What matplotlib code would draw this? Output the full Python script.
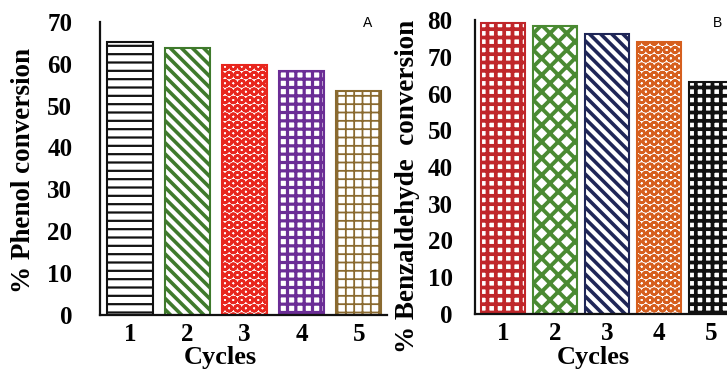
import matplotlib
matplotlib.use('Agg')
import matplotlib.pyplot as plt

plt.rcParams['font.family'] = ['Liberation Serif', 'DejaVu Serif']

cycles = [1, 2, 3, 4, 5]
cycle_labels = ['1', '2', '3', '4', '5']

phenol = [65.3, 63.7, 59.8, 58.2, 53.6]
phenol_colors = ['#111111', '#3f7a2c', '#e8261e', '#6b2d96', '#8a6a30']
phenol_hatches = ['--', '\\\\\\', 'OO', '++', '++']
phenol_hatch_lw = [1.6, 2.6, 1.9, 2.3, 1.3]

benz = [79.2, 78.5, 76.2, 74.1, 63.2]
benz_colors = ['#c0262a', '#4a8a32', '#1f2657', '#d65f1e', '#111111']
benz_hatches = ['++', 'xx', '\\\\\\', 'OO', '++']
benz_hatch_lw = [2.7, 2.8, 2.6, 1.8, 2.7]


def draw_panel(ax, values, colors, hatches, hatch_lws, ymax, width):
    bars = ax.bar(cycles, values, width=width, color='white')
    for bar, c, h, lw in zip(bars, colors, hatches, hatch_lws):
        bar.set_edgecolor(c)
        bar.set_linewidth(1.5)
        bar.set_hatch(h)
        if hasattr(bar, 'set_hatch_linewidth'):
            bar.set_hatch_linewidth(lw)
    ax.set_ylim(0, ymax)
    ax.set_yticks(range(0, ymax + 1, 10))
    ax.set_xticks(cycles)
    ax.set_xticklabels(cycle_labels)
    for s in ['top', 'right']:
        ax.spines[s].set_visible(False)
    for s in ['left', 'bottom']:
        ax.spines[s].set_linewidth(1.6)
        ax.spines[s].set_color('#111111')
    for lab in ax.get_xticklabels() + ax.get_yticklabels():
        lab.set_fontweight('bold')
        lab.set_fontsize(18)
    ax.tick_params(length=0)


fig = plt.figure(figsize=(7.27, 3.73), dpi=100)

ax1 = fig.add_axes([0.1376, 0.1555, 0.395, 0.786])
plt.rcParams['hatch.linewidth'] = 2.0
draw_panel(ax1, phenol, phenol_colors, phenol_hatches, phenol_hatch_lw, 70, 0.8)
ax1.set_xlim(0.47, 5.5)
ax1.tick_params(axis='y', pad=20)
ax1.tick_params(axis='x', pad=6)

ax2 = fig.add_axes([0.653, 0.159, 0.364, 0.787])
draw_panel(ax2, benz, benz_colors, benz_hatches, benz_hatch_lw, 80, 0.84)
ax2.set_xlim(0.46, 5.55)
ax2.tick_params(axis='y', pad=16)
ax2.tick_params(axis='x', pad=6)

fig.text(0.033, 0.544, '% Phenol conversion', rotation=90, ha='center', va='center',
         fontsize=19.5, fontweight='bold')
fig.text(0.561, 0.499, '% Benzaldehyde  conversion', rotation=90, ha='center', va='center',
         fontsize=19.5, fontweight='bold')
fig.text(220 / 727, 0.042, 'Cycles', ha='center', va='center', fontsize=19, fontweight='bold')
fig.text(593 / 727, 0.042, 'Cycles', ha='center', va='center', fontsize=19, fontweight='bold')

fig.text(368 / 727, 1 - 23 / 373, 'A', ha='center', va='center', fontsize=10,
         family='Liberation Sans')
fig.text(718 / 727, 1 - 23 / 373, 'B', ha='center', va='center', fontsize=10,
         family='Liberation Sans')

fig.savefig('out.png', dpi=100)
